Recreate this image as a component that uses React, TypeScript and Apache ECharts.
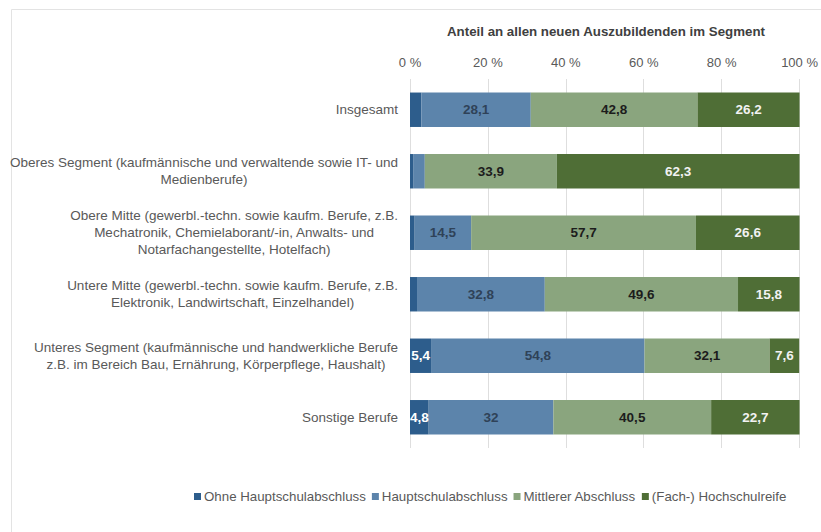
import React, { useEffect, useRef } from "react";
import * as echarts from "echarts";

const categories = [
  "Insgesamt",
  "Oberes Segment (kaufmännische und verwaltende sowie IT- und\nMedienberufe)",
  "Obere Mitte (gewerbl.-techn. sowie kaufm. Berufe, z.B.\nMechatronik, Chemielaborant/-in, Anwalts- und\nNotarfachangestellte, Hotelfach)",
  "Untere Mitte (gewerbl.-techn. sowie kaufm. Berufe, z.B.\nElektronik, Landwirtschaft, Einzelhandel)",
  "Unteres Segment (kaufmännische und handwerkliche Berufe\nz.B. im Bereich Bau, Ernährung, Körperpflege, Haushalt)",
  "Sonstige Berufe",
];

const seriesNames = [
  "Ohne Hauptschulabschluss",
  "Hauptschulabschluss",
  "Mittlerer Abschluss",
  "(Fach-) Hochschulreife",
];

const ohne = [2.9, 0.8, 1.2, 1.8, 5.4, 4.8];
const haupt = [28.1, 3.0, 14.5, 32.8, 54.8, 32];
const mittlerer = [42.8, 33.9, 57.7, 49.6, 32.1, 40.5];
const hochschul = [26.2, 62.3, 26.6, 15.8, 7.6, 22.7];

const xTicks = [0, 20, 40, 60, 80, 100];

const colors = ["#2d5d8c", "#5c84ab", "#8aa57e", "#4f6e36"];
const labelColors = ["#ffffff", "#2f4258", "#1c1c1c", "#f2f2f2"];
const minLabel = [4, 5, 5, 5];

const fmt = (v: number) => String(v).replace(".", ",");

export default function App() {
  const ref = useRef<HTMLDivElement>(null);
  useEffect(() => {
    if (!ref.current) return;
    const chart = echarts.init(ref.current, undefined, { renderer: "svg" });
    const dataSets = [ohne, haupt, mittlerer, hochschul];
    chart.setOption({
      animation: false,
      textStyle: { fontFamily: "Liberation Sans, Arial, sans-serif" },
      graphic: [
        {
          type: "rect",
          shape: { x: 11.5, y: 9.5, width: 830, height: 540 },
          style: { fill: "none", stroke: "#e3e3e3", lineWidth: 1 },
          silent: true,
        },
        {
          type: "text",
          left: 447,
          top: 25,
          style: {
            text: "Anteil an allen neuen Auszubildenden im Segment",
            font: "bold 13.3px Liberation Sans, Arial, sans-serif",
            fill: "#404040",
          },
        },
      ],
      legend: {
        left: 189,
        top: 485,
        icon: "rect",
        itemWidth: 7,
        itemHeight: 7,
        itemGap: 6,
        textStyle: { fontSize: 13.3, color: "#595959", padding: [0, 0, 0, -2] },
        data: seriesNames,
      },
      grid: { left: 410, right: 16, top: 79, bottom: 84, containLabel: false },
      xAxis: {
        type: "value",
        position: "top",
        min: xTicks[0],
        max: xTicks[xTicks.length - 1],
        interval: 20,
        axisLine: { show: false },
        axisTick: { show: false },
        axisLabel: {
          formatter: "{value} %",
          fontSize: 13,
          color: "#595959",
          margin: 10,
        },
        splitLine: { show: true, lineStyle: { color: "#dedede", width: 1 } },
      },
      yAxis: {
        type: "category",
        inverse: true,
        data: categories,
        axisLine: { show: false },
        axisTick: { show: false },
        axisLabel: {
          margin: 12,
          align: "right",
          formatter: (v: string) =>
            v
              .split("\n")
              .map((l) => `{c|${l}}`)
              .join("\n"),
          rich: {
            c: {
              align: "center",
              fontSize: 13.5,
              color: "#595959",
              lineHeight: 17,
              fontFamily: "Liberation Sans, Arial, sans-serif",
            },
          },
        },
      },
      series: seriesNames.map((name, i) => ({
        name,
        type: "bar",
        stack: "total",
        barCategoryGap: "44%",
        itemStyle: { color: colors[i] },
        label: {
          show: true,
          position: "inside",
          fontSize: 13.5,
          fontWeight: "bold",
          color: labelColors[i],
          formatter: (p: any) => (p.value >= minLabel[i] ? fmt(p.value) : ""),
        },
        data: dataSets[i],
      })),
    });
    return () => chart.dispose();
  }, []);
  return <div ref={ref} style={{ width: 821, height: 532, position: "absolute", left: 0, top: 0 }} />;
}
